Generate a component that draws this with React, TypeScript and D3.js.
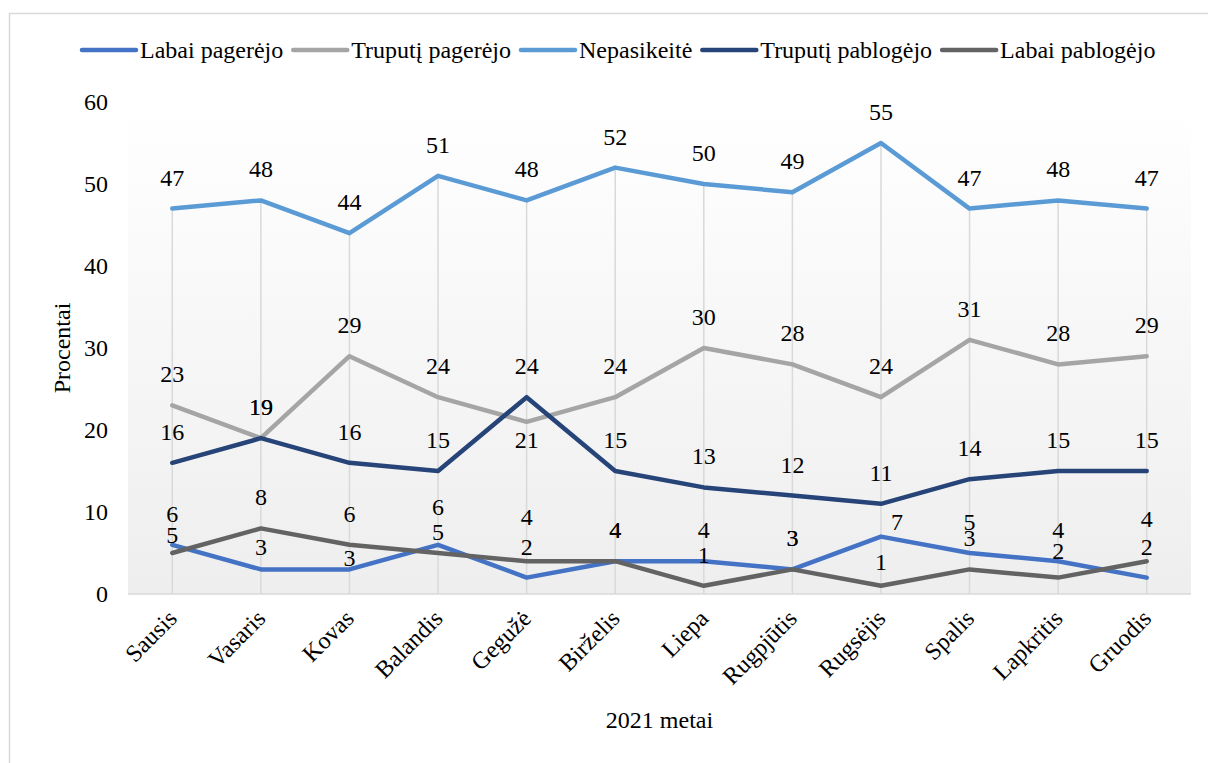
import React, { useEffect, useRef } from "react";
import * as d3 from "d3";

// Months of 2021
const months = [
  "Sausis", "Vasaris", "Kovas", "Balandis", "Gegužė", "Birželis",
  "Liepa", "Rugpjūtis", "Rugsėjis", "Spalis", "Lapkritis", "Gruodis",
];

// Series names (legend order)
const seriesNames = [
  "Labai pagerėjo",
  "Truputį pagerėjo",
  "Nepasikeitė",
  "Truputį pablogėjo",
  "Labai pablogėjo",
];

// Percentages per month
const labaiPagerejo = [6, 3, 3, 6, 2, 4, 4, 3, 7, 5, 4, 2];
const truputiPagerejo = [23, 19, 29, 24, 21, 24, 30, 28, 24, 31, 28, 29];
const nepasikeite = [47, 48, 44, 51, 48, 52, 50, 49, 55, 47, 48, 47];
const truputiPablogejo = [16, 19, 16, 15, 24, 15, 13, 12, 11, 14, 15, 15];
const labaiPablogejo = [5, 8, 6, 5, 4, 4, 1, 3, 1, 3, 2, 4];

const yTicks = [0, 10, 20, 30, 40, 50, 60];

const seriesColors = ["#4472C4", "#A5A5A5", "#5B9BD5", "#264478", "#636363"];

// Hand-placed label shifts (series index, month index) -> [dx, dy] in px
const labelShift: Record<string, [number, number]> = {
  "4-0": [0, 13],
  "0-1": [0, 9],
  "0-2": [0, 20],
  "0-3": [0, -7],
  "4-3": [0, 10],
  "4-4": [0, -13],
  "1-4": [0, 49],
  "0-8": [16, 16],
  "4-8": [0, 7],
  "4-10": [0, 4],
  "4-11": [0, -11],
};

const W = 1208;
const H = 763;
const FONT = "'Liberation Serif', 'Times New Roman', serif";

export default function App() {
  const ref = useRef<SVGSVGElement | null>(null);

  useEffect(() => {
    const svg = d3.select(ref.current);
    svg.selectAll("*").remove();

    const values = [labaiPagerejo, truputiPagerejo, nepasikeite, truputiPablogejo, labaiPablogejo];

    const left = 128;
    const right = 1191;
    const top = 102;
    const bottom = 594;

    const x = d3.scaleBand<string>().domain(months).range([left, right]);
    const cx = (m: string) => (x(m) as number) + x.bandwidth() / 2;
    const y = d3.scaleLinear().domain([0, 60]).range([bottom, top]);

    // outer chart frame
    svg.append("rect")
      .attr("x", 9.5).attr("y", 13.5)
      .attr("width", W + 20).attr("height", H + 20)
      .attr("fill", "#ffffff")
      .attr("stroke", "#d9d9d9").attr("stroke-width", 1.5);

    // plot area gradient
    const defs = svg.append("defs");
    const grad = defs.append("linearGradient")
      .attr("id", "plotBg").attr("x1", 0).attr("y1", 0).attr("x2", 0).attr("y2", 1);
    grad.append("stop").attr("offset", "0%").attr("stop-color", "#ffffff");
    grad.append("stop").attr("offset", "100%").attr("stop-color", "#eeeeee");

    svg.append("rect")
      .attr("x", left).attr("y", top)
      .attr("width", right - left).attr("height", bottom - top)
      .attr("fill", "url(#plotBg)");

    // drop lines from highest point to the category axis
    svg.append("g")
      .selectAll("line")
      .data(months)
      .join("line")
      .attr("x1", (m) => cx(m)).attr("x2", (m) => cx(m))
      .attr("y1", (_m, i) => y(d3.max(values, (s) => s[i]) as number))
      .attr("y2", y(0))
      .attr("stroke", "#d9d9d9").attr("stroke-width", 1.5);

    // category axis line
    svg.append("line")
      .attr("x1", left).attr("x2", right)
      .attr("y1", y(0)).attr("y2", y(0))
      .attr("stroke", "#d9d9d9").attr("stroke-width", 1.5);

    // y tick labels
    svg.append("g")
      .selectAll("text")
      .data(yTicks)
      .join("text")
      .attr("x", 108)
      .attr("y", (d) => y(d))
      .attr("text-anchor", "end")
      .attr("dominant-baseline", "central")
      .attr("font-family", FONT).attr("font-size", 24).attr("fill", "#000")
      .text((d) => d);

    // x tick labels, rotated
    svg.append("g")
      .selectAll("text")
      .data(months)
      .join("text")
      .attr("transform", (m) => `translate(${cx(m) + 6},${620}) rotate(-45)`)
      .attr("text-anchor", "end")
      .attr("font-family", FONT).attr("font-size", 24).attr("fill", "#000")
      .text((m) => m);

    // axis titles
    svg.append("text")
      .attr("transform", `translate(62,${(top + bottom) / 2}) rotate(-90)`)
      .attr("text-anchor", "middle")
      .attr("dominant-baseline", "central")
      .attr("font-family", FONT).attr("font-size", 24).attr("fill", "#000")
      .text("Procentai");

    svg.append("text")
      .attr("x", (left + right) / 2).attr("y", 720)
      .attr("text-anchor", "middle")
      .attr("dominant-baseline", "central")
      .attr("font-family", FONT).attr("font-size", 24).attr("fill", "#000")
      .text("2021 metai");

    // series lines
    const line = d3.line<number>()
      .x((_d, i) => cx(months[i]))
      .y((d) => y(d));

    svg.append("g")
      .selectAll("path")
      .data(values)
      .join("path")
      .attr("d", (s) => line(s))
      .attr("fill", "none")
      .attr("stroke", (_s, i) => seriesColors[i])
      .attr("stroke-width", 4.5)
      .attr("stroke-linejoin", "round")
      .attr("stroke-linecap", "round");

    // data labels
    const labels = svg.append("g");
    values.forEach((s, si) => {
      s.forEach((v, mi) => {
        const [dx, dy] = labelShift[`${si}-${mi}`] || [0, 0];
        labels.append("text")
          .attr("x", cx(months[mi]) + dx)
          .attr("y", y(v) - 31 + dy)
          .attr("text-anchor", "middle")
          .attr("dominant-baseline", "central")
          .attr("font-family", FONT).attr("font-size", 24).attr("fill", "#000")
          .text(v);
      });
    });

    // legend
    const legend = svg.append("g");
    let lx = 82;
    const ly = 50;
    seriesNames.forEach((name, i) => {
      legend.append("line")
        .attr("x1", lx).attr("x2", lx + 54)
        .attr("y1", ly).attr("y2", ly)
        .attr("stroke", seriesColors[i]).attr("stroke-width", 4.5)
        .attr("stroke-linecap", "round");
      const t = legend.append("text")
        .attr("x", lx + 58).attr("y", ly)
        .attr("dominant-baseline", "central")
        .attr("font-family", FONT).attr("font-size", 24).attr("fill", "#000")
        .text(name);
      const w = (t.node() as SVGTextElement).getComputedTextLength();
      lx = lx + 58 + w + 10;
    });
  }, []);

  return (
    <svg
      ref={ref}
      width={W}
      height={H}
      style={{ position: "fixed", left: 0, top: 0, background: "#fff" }}
    />
  );
}
